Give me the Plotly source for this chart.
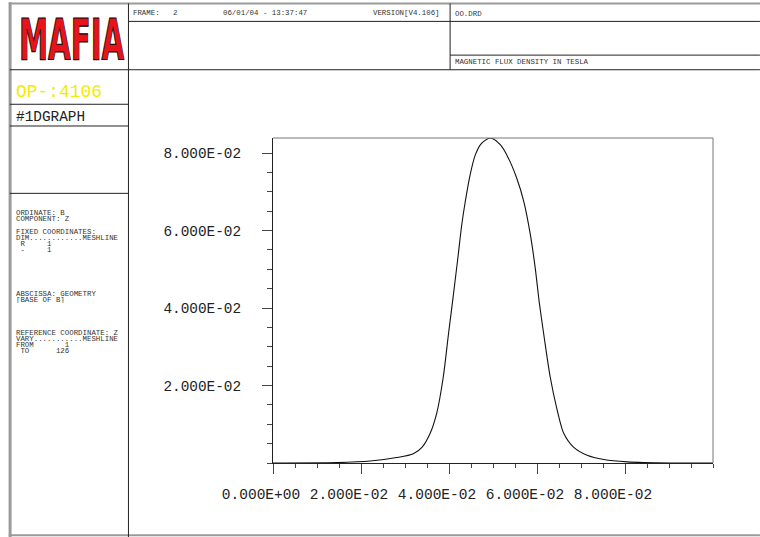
import plotly.graph_objects as go

# ---- data ----
z_m = [0.0, 0.0145, 0.0221, 0.0281, 0.0319, 0.0339, 0.0357, 0.0372, 0.0387, 0.0399,
       0.0408, 0.0420, 0.0429, 0.0437, 0.0448, 0.0460, 0.0473, 0.0494, 0.0517, 0.0535,
       0.0554, 0.0570, 0.0585, 0.0596, 0.0605, 0.0615, 0.0630, 0.0646, 0.0661, 0.0683,
       0.0714, 0.0752, 0.0805, 0.0903, 0.1000]
bz_t = [0.0, 0.0001, 0.0005, 0.0014, 0.0024, 0.0041, 0.0076, 0.0128, 0.0222, 0.0335,
        0.0416, 0.0528, 0.0615, 0.0675, 0.0744, 0.0796, 0.0824, 0.0839, 0.0821, 0.0787,
        0.0735, 0.0675, 0.0589, 0.0503, 0.0416, 0.0335, 0.0222, 0.0136, 0.0076, 0.0041,
        0.0020, 0.0009, 0.0003, 0.0000, 0.0]

x_ticks = [0.0, 0.02, 0.04, 0.06, 0.08]
x_labels = ["0.000E+00", "2.000E-02", "4.000E-02", "6.000E-02", "8.000E-02"]
y_ticks = [0.02, 0.04, 0.06, 0.08]
y_labels = ["2.000E-02", "4.000E-02", "6.000E-02", "8.000E-02"]
x_range = [0.0, 0.1]
y_range = [0.0, 0.0839]

header_texts = [("FRAME:   2", 132, 13.3), ("06/01/04 - 13:37:47", 222, 13.3),
                ("VERSION[V4.106]", 373, 13.3), ("OO.DRD", 455, 14),
                ("MAGNETIC FLUX DENSITY IN TESLA", 455, 62)]
info_lines = [("ORDINATE: B", 213.3), ("COMPONENT: Z", 219.3),
              ("FIXED COORDINATES:", 231.7), ("DIM............MESHLINE", 237.7),
              (" R     1", 244), (" -     1", 250),
              ("ABSCISSA: GEOMETRY", 293.5), ("[BASE OF B]", 299.5),
              ("REFERENCE COORDINATE: Z", 332.5), ("VARY...........MESHLINE", 338.5),
              ("FROM       1", 344.5), (" TO      126", 350.5)]

W, H = 760, 537
X0, X1 = 272.5, 713.0   # plot area left/right in px
Y0, Y1 = 138.0, 462.7   # plot area top/bottom in px


def px(x):
    return (x - X0) / (X1 - X0)


def py(y):
    return (Y1 - y) / (Y1 - Y0)


MONO = "Liberation Mono, DejaVu Sans Mono, Courier New, monospace"

fig = go.Figure()
fig.add_trace(go.Scatter(x=z_m, y=bz_t, mode="lines",
                         line=dict(color="#111", width=1.1, shape="spline", smoothing=0.8),
                         hoverinfo="skip", showlegend=False))

shapes = []


def hline(y, xa, xb, color="#222", width=1):
    shapes.append(dict(type="line", xref="paper", yref="paper", x0=px(xa), x1=px(xb),
                       y0=py(y), y1=py(y), line=dict(color=color, width=width)))


def vline(x, ya, yb, color="#222", width=1):
    shapes.append(dict(type="line", xref="paper", yref="paper", x0=px(x), x1=px(x),
                       y0=py(ya), y1=py(yb), line=dict(color=color, width=width)))


# outer frame
vline(9.3, 2.5, 537, color="#9a9a9a", width=3)
hline(3.6, 8, 760, color="#9a9a9a", width=2)
hline(535, 8, 760, color="#9a9a9a", width=2)
# header / panels
vline(127.8, 3.6, 537)
hline(69.8, 9, 760)
hline(21.5, 127.8, 760)
vline(449.8, 3.6, 69.8)
hline(55.2, 449.8, 760)
hline(104.3, 9, 127.8)
hline(126.0, 9, 127.8)
hline(193.3, 9, 127.8)
# plot box top / right
hline(Y0, X0, X1, color="#777", width=1)
vline(X1, Y0, Y1, color="#777", width=1)

annotations = []


def txt(s, x, y, size=7.4, color="#333", family=MONO, box_h=None):
    a = dict(text=s.replace(" ", "\u00a0"), xref="paper", yref="paper",
             x=px(x - 1), y=py(y), xanchor="left", yanchor="middle",
             showarrow=False, borderpad=0,
             font=dict(family=family, size=size, color=color))
    if box_h:
        a["height"] = box_h
    annotations.append(a)


for s, x, y in header_texts:
    txt(s, x, y)
for s, y in info_lines:
    txt(s, 15, y, box_h=5.8)
txt("OP-:4106", 15.5, 92, size=17.9, color="#f2ec00")
txt("#1DGRAPH", 15.5, 116.7, size=14.4, color="#222")

# logo (real text, stretched vertically in the page by the post script)
annotations.append(dict(text="MAFIA", xref="paper", yref="paper", x=px(70.5), y=py(40.5),
                        xanchor="center", yanchor="middle", showarrow=False, borderpad=0,
                        font=dict(family="DejaVu Sans Condensed, DejaVu Sans, sans-serif",
                                  size=30, color="#e8141c", weight="bold")))

fig.update_layout(
    width=W, height=H,
    margin=dict(l=X0, r=W - X1, t=Y0, b=H - Y1, pad=0),
    paper_bgcolor="white", plot_bgcolor="white",
    showlegend=False,
    shapes=shapes, annotations=annotations,
    xaxis=dict(range=x_range, tickvals=x_ticks, ticktext=x_labels,
               ticks="outside", ticklen=10, tickcolor="#444", tickwidth=1,
               showline=True, linecolor="#222", linewidth=1,
               showgrid=False, zeroline=False,
               minor=dict(tick0=0, dtick=0.005, ticks="outside", ticklen=4,
                          tickcolor="#444", showgrid=False),
               tickfont=dict(family=MONO, size=14.5, color="#222"),
               ticklabelshift=-12, ticklabelstandoff=8),
    yaxis=dict(range=y_range, tickvals=y_ticks, ticktext=y_labels,
               ticks="outside", ticklen=10, tickcolor="#444", tickwidth=1,
               showline=True, linecolor="#222", linewidth=1,
               showgrid=False, zeroline=False,
               minor=dict(tick0=0, dtick=0.005, ticks="outside", ticklen=5,
                          tickcolor="#444", showgrid=False),
               tickfont=dict(family=MONO, size=14.4, color="#222"),
               ticklabelstandoff=18),
)

post = """
var gd = document.getElementById('{plot_id}');
function fixLogo(){
  gd.querySelectorAll('text.annotation-text').forEach(function(t){
    if (t.textContent === 'MAFIA') {
      t.setAttribute('textLength', '105');
      t.setAttribute('lengthAdjust', 'spacingAndGlyphs');
      t.style.transformBox = 'fill-box';
      t.style.transformOrigin = 'center';
      t.style.transform = 'scale(1, 1.9)';
      t.style.stroke = '#000';
      t.style.strokeWidth = '0.6px';
    }
  });
}
fixLogo();
gd.on('plotly_afterplot', fixLogo);
"""

fig.write_html("out.html", post_script=post)
